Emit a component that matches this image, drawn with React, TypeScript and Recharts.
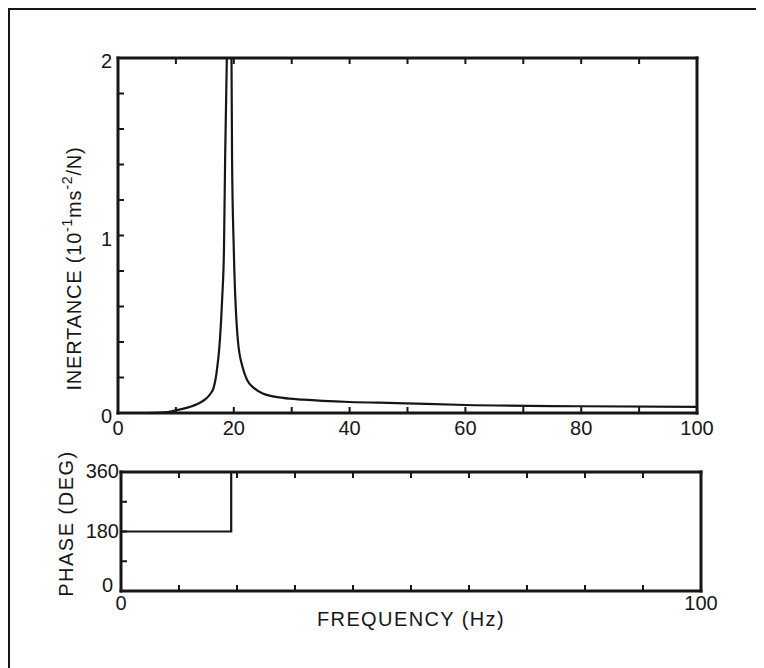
import { LineChart, Line, XAxis, YAxis } from "recharts"

// inertance curve (Hz, 10^-1 m s^-2 / N)
const freq = [0, 5, 8, 10, 12, 14, 15, 16, 16.5, 17, 17.6, 18, 18.3, 18.5, 18.8, 19.2, 19.6, 19.7, 20, 20.7, 21.5, 22.3, 23.5, 25, 28.5, 32, 40, 48, 60, 80, 100]
const inertance = [0, 0, 0.003, 0.015, 0.03, 0.055, 0.075, 0.11, 0.14, 0.22, 0.41, 0.65, 0.92, 1.43, 2.0, 2.6, 2.0, 1.43, 0.92, 0.41, 0.26, 0.186, 0.14, 0.11, 0.085, 0.075, 0.062, 0.056, 0.045, 0.038, 0.034]

// phase step
const phaseFreq = [0, 19, 100]
const phaseDeg = [180, 360, 360]

const freqTicks = [0, 10, 20, 30, 40, 50, 60, 70, 80, 90, 100]
const topFreqLabels = [0, 20, 40, 60, 80, 100]
const bottomFreqLabels = [0, 100]
const inertTicks = [0, 0.2, 0.4, 0.6, 0.8, 1, 1.2, 1.4, 1.6, 1.8, 2]
const inertLabels = [0, 1, 2]
const phaseTicks = [0, 90, 180, 270, 360]
const phaseLabels = [0, 180, 360]

const inertData = freq.map((f, i) => ({ f, v: inertance[i] }))
const phaseData = phaseFreq.map((f, i) => ({ f, p: phaseDeg[i] }))

const ink = "#161616"
const font = "'Liberation Sans', Arial, sans-serif"

function xTick(labels: number[] | null, side: "top" | "bottom", dy: number) {
  return (p: any) => {
    const { x, y, payload } = p
    const dir = side === "top" ? 1 : -1
    const show = labels && labels.some((l) => Math.abs(l - payload.value) < 1e-6)
    return (
      <g>
        <line x1={x} x2={x} y1={y} y2={y + dir * 6} stroke={ink} strokeWidth={2} />
        {show && (
          <text x={x} y={y + dy} textAnchor="middle" fontSize={20} fontFamily={font} fill={ink}>
            {payload.value}
          </text>
        )}
      </g>
    )
  }
}

// zeroDy/zeroGap: the origin label sits a bit higher and further out in the bottom panel
function yTick(labels: number[] | null, side: "left" | "right", dy: number, gap: number, zeroDy = dy, zeroGap = gap) {
  return (p: any) => {
    const { x, y, payload } = p
    const dir = side === "left" ? 1 : -1
    const show = labels && labels.some((l) => Math.abs(l - payload.value) < 1e-6)
    const isZero = payload.value === 0
    return (
      <g>
        <line x1={x} x2={x + dir * 6} y1={y} y2={y} stroke={ink} strokeWidth={2} />
        {show && (
          <text
            x={x - (isZero ? zeroGap : gap)}
            y={y + (isZero ? zeroDy : dy)}
            textAnchor="end"
            fontSize={20}
            fontFamily={font}
            fill={ink}
          >
            {payload.value}
          </text>
        )}
      </g>
    )
  }
}

const axisLine = { stroke: ink, strokeWidth: 3, strokeLinecap: "square" as const }

function InertLabel(props: any) {
  const vb = props.viewBox
  const bx = vb.x + 73
  const cy = vb.y + vb.height / 2 + 33
  return (
    <text
      x={bx}
      y={cy}
      transform={`rotate(-90 ${bx} ${cy})`}
      textAnchor="middle"
      fontSize={20}
      fontFamily={font}
      fill={ink}
      letterSpacing={0.8}
    >
      INERTANCE  (10
      <tspan fontSize={14} dy={-9}>-1</tspan>
      <tspan dy={9}>ms</tspan>
      <tspan fontSize={14} dy={-9}>-2</tspan>
      <tspan dy={9}>/N)</tspan>
    </text>
  )
}

function PhaseLabel(props: any) {
  const vb = props.viewBox
  const bx = vb.x + 65
  const cy = vb.y + vb.height / 2 - 8
  return (
    <text
      x={bx}
      y={cy}
      transform={`rotate(-90 ${bx} ${cy})`}
      textAnchor="middle"
      fontSize={20}
      fontFamily={font}
      fill={ink}
      letterSpacing={1.5}
    >
      PHASE  (DEG)
    </text>
  )
}

function FreqLabel(props: any) {
  const vb = props.viewBox
  return (
    <text
      x={vb.x + vb.width / 2}
      y={vb.y + 35}
      textAnchor="middle"
      fontSize={20}
      fontFamily={font}
      fill={ink}
      letterSpacing={1.4}
    >
      FREQUENCY  (Hz)
    </text>
  )
}

export default function App() {
  return (
    <div style={{ position: "relative", width: 756, height: 660, overflow: "hidden", background: "#fff" }}>
      <div
        style={{
          position: "absolute",
          left: 0,
          top: 0,
          width: 756,
          height: 660,
          boxSizing: "border-box",
          borderTop: `2px solid ${ink}`,
          borderLeft: `2px solid ${ink}`,
        }}
      />
      <div style={{ position: "absolute", left: 0, top: 0 }}>
        <LineChart width={740} height={450} data={inertData} margin={{ top: 49, right: 50, bottom: 15, left: 0 }}>
          <XAxis
            dataKey="f"
            type="number"
            domain={[0, 100]}
            ticks={freqTicks}
            interval={0}
            height={30}
            tickSize={0}
            tickMargin={0}
            axisLine={axisLine}
            tickLine={false}
            tick={xTick(topFreqLabels, "bottom", 22)}
          />
          <XAxis
            xAxisId="top"
            orientation="top"
            dataKey="f"
            type="number"
            domain={[0, 100]}
            ticks={freqTicks}
            interval={0}
            height={1}
            tickSize={0}
            tickMargin={0}
            axisLine={axisLine}
            tickLine={false}
            tick={xTick(null, "top", 0)}
          />
          <YAxis
            type="number"
            domain={[0, 2]}
            allowDataOverflow
            ticks={inertTicks}
            interval={0}
            width={110}
            tickSize={0}
            tickMargin={0}
            axisLine={axisLine}
            tickLine={false}
            tick={yTick(inertLabels, "left", 10, 6)}
            label={<InertLabel />}
          />
          <YAxis
            yAxisId="right"
            orientation="right"
            type="number"
            domain={[0, 2]}
            ticks={inertTicks}
            interval={0}
            width={1}
            tickSize={0}
            tickMargin={0}
            axisLine={axisLine}
            tickLine={false}
            tick={yTick(null, "right", 0, 0)}
          />
          <Line type="monotone" dataKey="v" stroke={ink} strokeWidth={2.2} dot={false} isAnimationActive={false} />
        </LineChart>
      </div>
      <div style={{ position: "absolute", left: 0, top: 420 }}>
        <LineChart width={740} height={240} data={phaseData} margin={{ top: 43, right: 46, bottom: 27, left: 0 }}>
          <XAxis
            dataKey="f"
            type="number"
            domain={[0, 100]}
            ticks={freqTicks}
            interval={0}
            height={50}
            tickSize={0}
            tickMargin={0}
            axisLine={axisLine}
            tickLine={false}
            tick={xTick(bottomFreqLabels, "bottom", 19)}
            label={<FreqLabel />}
          />
          <XAxis
            xAxisId="top"
            orientation="top"
            dataKey="f"
            type="number"
            domain={[0, 100]}
            ticks={freqTicks}
            interval={0}
            height={1}
            tickSize={0}
            tickMargin={0}
            axisLine={axisLine}
            tickLine={false}
            tick={xTick(null, "top", 0)}
          />
          <YAxis
            type="number"
            domain={[0, 360]}
            ticks={phaseTicks}
            interval={0}
            width={113}
            tickSize={0}
            tickMargin={0}
            axisLine={axisLine}
            tickLine={false}
            tick={yTick(phaseLabels, "left", 6, 2, 1, 8)}
            label={<PhaseLabel />}
          />
          <YAxis
            yAxisId="right"
            orientation="right"
            type="number"
            domain={[0, 360]}
            ticks={phaseTicks}
            interval={0}
            width={1}
            tickSize={0}
            tickMargin={0}
            axisLine={axisLine}
            tickLine={false}
            tick={yTick(null, "right", 0, 0)}
          />
          <Line type="stepAfter" dataKey="p" stroke={ink} strokeWidth={2.2} dot={false} isAnimationActive={false} />
        </LineChart>
      </div>
    </div>
  )
}
